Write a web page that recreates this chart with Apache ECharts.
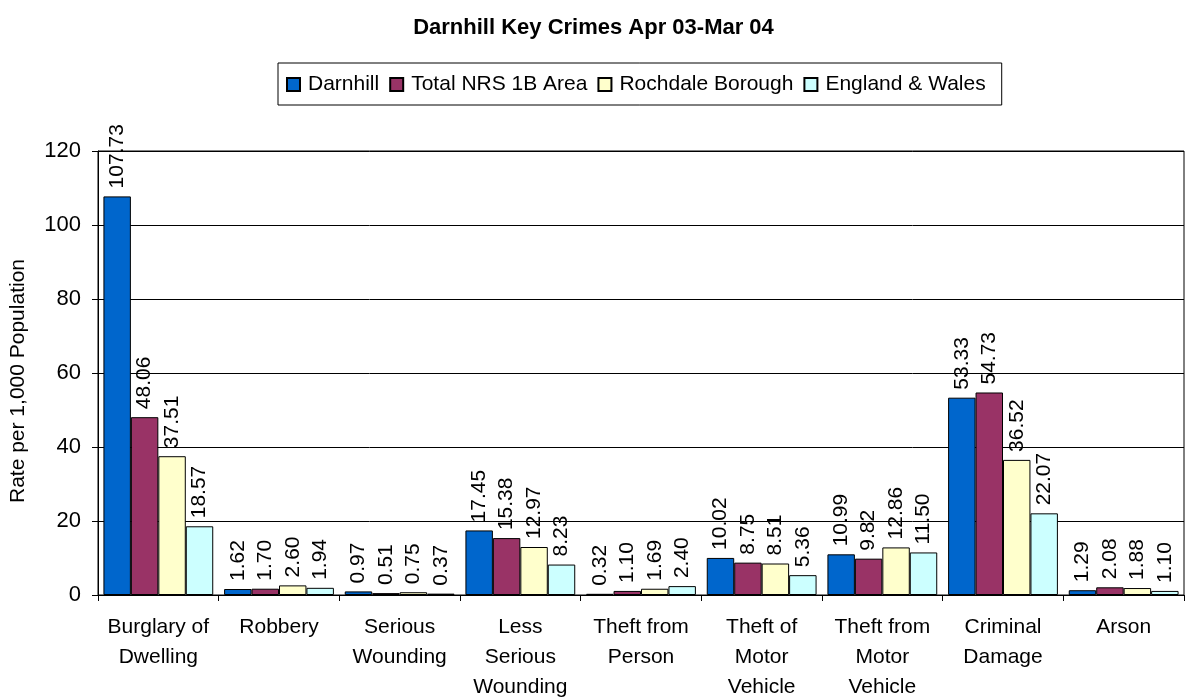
<!DOCTYPE html>
<html>
<head>
<meta charset="utf-8">
<script src="https://cdn.jsdelivr.net/npm/echarts@6/dist/echarts.min.js"></script>
<style>
html,body{margin:0;padding:0;background:#fff;}
#chart{width:1187px;height:699px;}
</style>
</head>
<body>
<div id="chart"></div>
<script>
const categories = ["Burglary of\nDwelling","Robbery","Serious\nWounding","Less\nSerious\nWounding","Theft from\nPerson","Theft of\nMotor\nVehicle","Theft from\nMotor\nVehicle","Criminal\nDamage","Arson"];
const seriesNames = ["Darnhill","Total NRS 1B Area","Rochdale Borough","England & Wales"];
const darnhill = [107.73,1.62,0.97,17.45,0.32,10.02,10.99,53.33,1.29];
const totalNRS = [48.06,1.70,0.51,15.38,1.10,8.75,9.82,54.73,2.08];
const rochdale = [37.51,2.60,0.75,12.97,1.69,8.51,12.86,36.52,1.88];
const englandWales = [18.57,1.94,0.37,8.23,2.40,5.36,11.50,22.07,1.10];
const colors = ["#0066CC","#993366","#FFFFCC","#CCFFFF"];
const yTicks = {min:0,max:120,interval:20};

const font = "Liberation Sans, Arial, sans-serif";
const dataSets = [darnhill,totalNRS,rochdale,englandWales];

const chart = echarts.init(document.getElementById('chart'), null, {renderer:'canvas'});
chart.setOption({
  animation:false,
  backgroundColor:'#fff',
  textStyle:{fontFamily:font},
  title:{
    text:'Darnhill Key Crimes Apr 03-Mar 04',
    left:'center', top:12,
    textStyle:{fontFamily:font,fontSize:22,fontWeight:'bold',color:'#000'}
  },
  legend:{
    top:63, left:278,
    itemWidth:13, itemHeight:13, itemGap:10,
    padding:[11,16,10,8],
    borderColor:'#000', borderWidth:1,
    icon:'rect',
    textStyle:{fontFamily:font,fontSize:21,color:'#000',padding:[0,0,0,3]},
    data:seriesNames
  },
  grid:{left:98,right:3,top:151,bottom:104,outerBoundsMode:'none',containLabel:false,show:true,borderColor:'#000',borderWidth:1,backgroundColor:'transparent'},
  xAxis:{
    type:'category',
    data:categories,
    axisLine:{lineStyle:{color:'#000',width:1}},
    axisTick:{show:true,length:6,lineStyle:{color:'#000'}},
    axisLabel:{interval:0,color:'#000',fontFamily:font,fontSize:21,lineHeight:30,margin:17}
  },
  yAxis:{
    type:'value',
    min:yTicks.min,max:yTicks.max,interval:yTicks.interval,
    name:'Rate per 1,000 Population',
    nameLocation:'middle', nameGap:69,
    nameTextStyle:{fontFamily:font,fontSize:21,color:'#000',padding:[0,16,0,0]},
    axisLine:{show:true,lineStyle:{color:'#000',width:1}},
    axisTick:{show:true,length:6,lineStyle:{color:'#000'}},
    axisLabel:{color:'#000',fontFamily:font,fontSize:22,margin:17},
    splitLine:{lineStyle:{color:'#000',width:1}}
  },
  series: seriesNames.map((n,i)=>({
    name:n,
    type:'bar',
    data:dataSets[i],
    barGap:'0%',
    barCategoryGap:'9%',
    itemStyle:{color:colors[i],borderColor:'#000',borderWidth:1},
    label:{
      show:true,position:'top',rotate:90,align:'left',verticalAlign:'middle',distance:8,
      color:'#000',fontFamily:font,fontSize:21,
      formatter:p=>p.value.toFixed(2)
    }
  }))
});
</script>
</body>
</html>
